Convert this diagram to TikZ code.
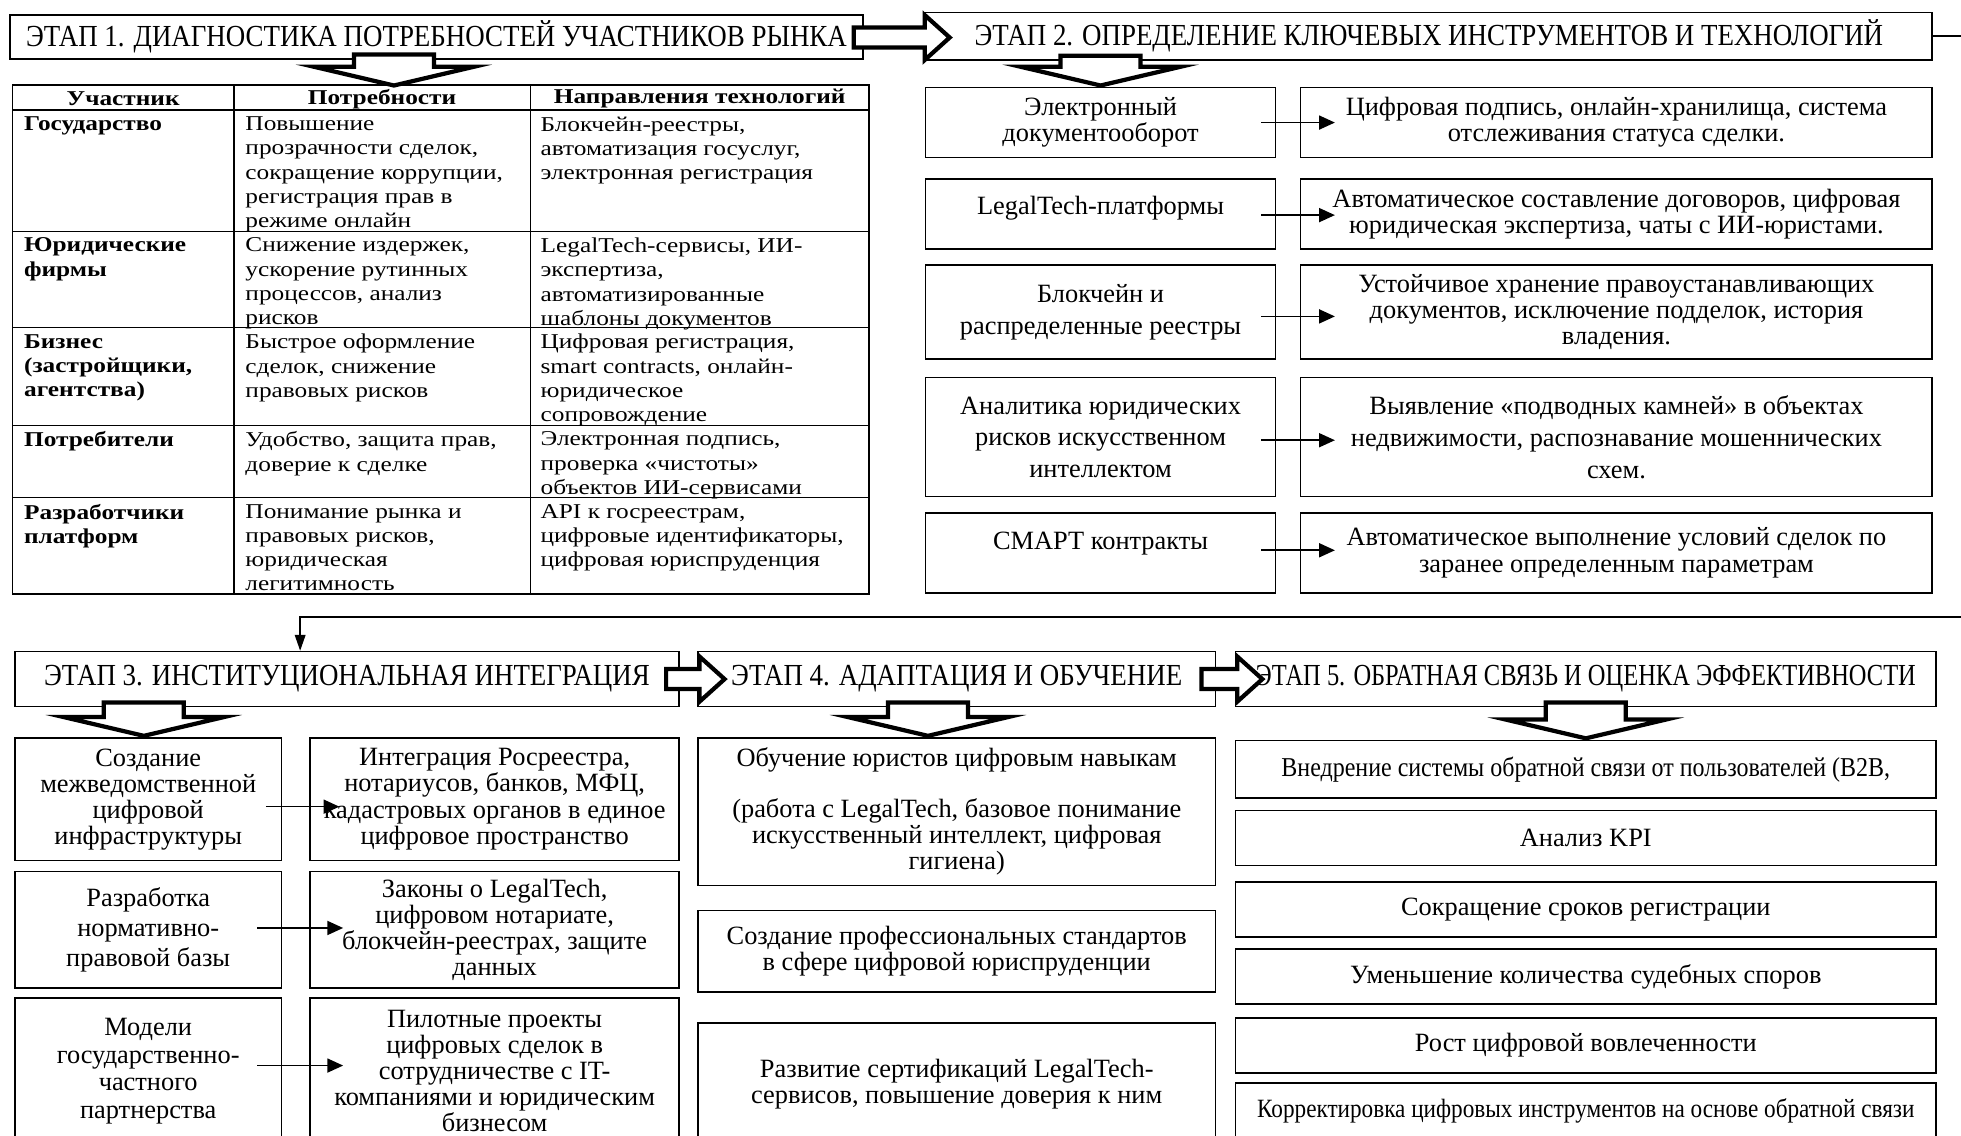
\documentclass[tikz,border=0pt]{standalone}
\usepackage{fontspec}
\setmainfont{Liberation Serif}
\newfontfamily\tnrc[FakeStretch=0.88]{Liberation Serif}
\newfontfamily\tnrcc[FakeStretch=0.8]{Liberation Serif}
\newfontfamily\tnrw[FakeStretch=1.2]{Liberation Serif}
\usetikzlibrary{arrows.meta, positioning, calc}

\newcommand{\unitpx}{0.025cm}

% hollow block arrow pointing right: #1 tail, #2 tip
\newcommand{\rightblock}[2]{%
  \draw[hollow] ($(#1)+(0,-8)$) -- ($(#2 |- #1)+(-20,-8)$) -- ($(#2 |- #1)+(-20,-18)$)
    -- (#2 |- #1) -- ($(#2 |- #1)+(-20,18)$) -- ($(#2 |- #1)+(-20,8)$) -- ($(#1)+(0,8)$) -- cycle;}
% hollow block arrow pointing down: #1 top centre, #2 tip
\newcommand{\downblock}[2]{%
  \draw[hollow] ($(#1)+(-32,0)$) -- ($(#1)+(32,0)$) -- ($(#2)+(32,-15)$) -- ($(#2)+(64,-15)$)
    -- (#2) -- ($(#2)+(-64,-15)$) -- ($(#2)+(-32,-15)$) -- cycle;}

\begin{document}
\begin{tikzpicture}[
    x=0.025cm, y=-0.025cm,
    % Define Styles
    wh/.style 2 args={
        minimum width=#1*\unitpx,
        minimum height=#2*\unitpx
    },
    stage/.style={
        draw,
        line width=0.9pt,
        fill=white,
        inner sep=0pt,
        font=\tnrc\fontsize{17.4}{19}\selectfont
    },
    item/.style={
        draw,
        line width=0.9pt,
        align=center,
        inner sep=0pt,
        font=\fontsize{15}{14.8}\selectfont
    },
    cell/.style={
        anchor=north west,
        align=left,
        inner sep=0pt,
        font=\tnrw\fontsize{12}{13.8}\selectfont
    },
    boldcell/.style={
        cell,
        font=\tnrw\bfseries\fontsize{12}{13.8}\selectfont
    },
    headcell/.style={
        boldcell,
        anchor=center
    },
    gridline/.style={
        draw,
        line width=0.8pt
    },
    hollow/.style={
        draw,
        line width=2.4pt,
        fill=white,
        line join=miter
    },
    link/.style={
        draw,
        line width=0.9pt,
        -{Triangle[length=9pt, width=8pt]}
    },
    feedback/.style={
        draw,
        line width=0.9pt,
        -{Triangle[length=9pt, width=6pt]}
    }
    ]

    % Frame
    \useasboundingbox (0,0) rectangle (1568,908);
    \clip (0,0) rectangle (1568,908);

    % Stages
    \node[stage, wh={682}{35}] (st1) at (349,29.5) {ЭТАП 1. ДИАГНОСТИКА ПОТРЕБНОСТЕЙ УЧАСТНИКОВ РЫНКА};
    \node[stage, wh={805}{38}] (st2) at (1142.5,29) {ЭТАП 2. ОПРЕДЕЛЕНИЕ КЛЮЧЕВЫХ ИНСТРУМЕНТОВ И ТЕХНОЛОГИЙ};
    \node[stage, wh={531}{44}] (st3) at (277.5,543) {ЭТАП 3. ИНСТИТУЦИОНАЛЬНАЯ ИНТЕГРАЦИЯ};
    \node[stage, wh={414}{44}] (st4) at (765,543) {ЭТАП 4. АДАПТАЦИЯ И ОБУЧЕНИЕ};
    \node[stage, font=\tnrcc\fontsize{17.4}{19}\selectfont, wh={560}{44}] (st5) at (1268,543) {ЭТАП 5. ОБРАТНАЯ СВЯЗЬ И ОЦЕНКА ЭФФЕКТИВНОСТИ};

    % Table of participants
    \node[draw, line width=0.9pt, wh={685}{407}] (tbl) at (352.5,271.5) {};
    \draw[gridline] (187,68) -- (187,475);
    \draw[gridline] (424,68) -- (424,475);
    \draw[gridline] (10,88) -- (695,88);
    \draw[gridline] (10,185) -- (695,185);
    \draw[gridline] (10,262) -- (695,262);
    \draw[gridline] (10,340) -- (695,340);
    \draw[gridline] (10,398) -- (695,398);

    \node[headcell] (hpart) at (98.5,79) {Участник};
    \node[headcell] (hneed) at (305.5,79) {Потребности};
    \node[headcell] (htech) at (559.5,79) {Направления технологий};

    \node[boldcell] (govp) at (19,93) {Государство};
    \node[cell] (govn) at (196,93) {Повышение\\прозрачности сделок,\\сокращение коррупции,\\регистрация прав в\\режиме онлайн};
    \node[cell] (govt) at (432,93) {Блокчейн-реестры,\\автоматизация госуслуг,\\электронная регистрация};

    \node[boldcell] (lawp) at (19,190) {Юридические\\фирмы};
    \node[cell] (lawn) at (196,190) {Снижение издержек,\\ускорение рутинных\\процессов, анализ\\рисков};
    \node[cell] (lawt) at (432,190) {LegalTech-сервисы, ИИ-\\экспертиза,\\автоматизированные\\шаблоны документов};

    \node[boldcell] (bizp) at (19,267) {Бизнес\\(застройщики,\\агентства)};
    \node[cell] (bizn) at (196,267) {Быстрое оформление\\сделок, снижение\\правовых рисков};
    \node[cell] (bizt) at (432,267) {Цифровая регистрация,\\smart contracts, онлайн-\\юридическое\\сопровождение};

    \node[boldcell] (consp) at (19,345) {Потребители};
    \node[cell] (consn) at (196,345) {Удобство, защита прав,\\доверие к сделке};
    \node[cell] (const) at (432,345) {Электронная подпись,\\проверка «чистоты»\\объектов ИИ-сервисами};

    \node[boldcell] (devp) at (19,403) {Разработчики\\платформ};
    \node[cell] (devn) at (196,403) {Понимание рынка и\\правовых рисков,\\юридическая\\легитимность};
    \node[cell] (devt) at (432,403) {API к госреестрам,\\цифровые идентификаторы,\\цифровая юриспруденция};

    % Stage 2 tools
    \node[item, wh={280}{56}] (tool1) at (880,98) {Электронный\\документооборот};
    \node[item, wh={505}{56}] (effect1) at (1292.5,98) {Цифровая подпись, онлайн-хранилища, система\\отслеживания статуса сделки.};
    \node[item, wh={280}{56}] (tool2) at (880,171) {\raisebox{3pt}[\height][\depth]{LegalTech-платформы}};
    \node[item, wh={505}{56}] (effect2) at (1292.5,171) {Автоматическое составление договоров, цифровая\\юридическая экспертиза, чаты с ИИ-юристами.};
    \node[item, font=\fontsize{15}{18}\selectfont, wh={280}{75}] (tool3) at (880,249.5) {Блокчейн и\\распределенные реестры};
    \node[item, wh={505}{75}] (effect3) at (1292.5,249.5) {Устойчивое хранение правоустанавливающих\\документов, исключение подделок, история\\владения.};
    \node[item, font=\fontsize{15}{18}\selectfont, wh={280}{95}] (tool4) at (880,349.5) {Аналитика юридических\\рисков искусственном\\интеллектом};
    \node[item, font=\fontsize{15}{18}\selectfont, wh={505}{95}] (effect4) at (1292.5,349.5) {Выявление «подводных камней» в объектах\\недвижимости, распознавание мошеннических\\схем.};
    \node[item, wh={280}{64}] (tool5) at (880,442) {\raisebox{5pt}[\height][\depth]{СМАРТ контракты}};
    \node[item, wh={505}{64}] (effect5) at (1292.5,442) {Автоматическое выполнение условий сделок по\\заранее определенным параметрам};

    \draw[link] ($(tool1.east)+(-12,0)$) -- ($(effect1.west)+(28,0)$);
    \draw[link] ($(tool2.east)+(-12,1)$) -- ($(effect2.west)+(28,1)$);
    \draw[link] ($(tool3.east)+(-12,3.5)$) -- ($(effect3.west)+(28,3.5)$);
    \draw[link] ($(tool4.east)+(-12,2.5)$) -- ($(effect4.west)+(28,2.5)$);
    \draw[link] ($(tool5.east)+(-12,-2)$) -- ($(effect5.west)+(28,-2)$);

    % Stage 3 integration
    \node[item, wh={213}{98}] (int1) at (118.5,639) {Создание\\межведомственной\\цифровой\\инфраструктуры};
    \node[item, wh={295}{98}] (intres1) at (395.5,639) {Интеграция Росреестра,\\нотариусов, банков, МФЦ,\\кадастровых органов в единое\\цифровое пространство};
    \node[item, font=\fontsize{15}{17}\selectfont, wh={213}{93}] (int2) at (118.5,743.5) {Разработка\\нормативно-\\правовой базы};
    \node[item, wh={295}{93}] (intres2) at (395.5,743.5) {Законы о LegalTech,\\цифровом нотариате,\\блокчейн-реестрах, защите\\данных};
    \node[item, font=\fontsize{15}{15.6}\selectfont, wh={213}{117}] (int3) at (118.5,856.5) {Модели\\государственно-\\частного\\партнерства};
    \node[item, wh={295}{117}] (intres3) at (395.5,856.5) {Пилотные проекты\\цифровых сделок в\\сотрудничестве с IT-\\компаниями и юридическим\\бизнесом};

    \draw[link] ($(int1.east)+(-13,6)$) -- ($(intres1.west)+(24,6)$);
    \draw[link] ($(int2.east)+(-20,-1.5)$) -- ($(intres2.west)+(27,-1.5)$);
    \draw[link] ($(int3.east)+(-20,-4.5)$) -- ($(intres3.west)+(27,-4.5)$);

    % Stage 4 training
    \node[item, wh={414}{118}] (edu1) at (765,649) {Обучение юристов цифровым навыкам\\[14pt](работа с LegalTech, базовое понимание\\искусственный интеллект, цифровая\\гигиена)};
    \node[item, wh={414}{65}] (edu2) at (765,760.5) {Создание профессиональных стандартов\\в сфере цифровой юриспруденции};
    \node[item, wh={414}{97}] (edu3) at (765,866.5) {Развитие сертификаций LegalTech-\\сервисов, повышение доверия к ним};

    % Stage 5 evaluation
    \node[item, font=\tnrc\fontsize{15.5}{15}\selectfont, wh={560}{46}] (kpi1) at (1268,615) {Внедрение системы обратной связи от пользователей (B2B,};
    \node[item, wh={560}{44}] (kpi2) at (1268,670) {Анализ KPI};
    \node[item, wh={560}{44}] (kpi3) at (1268,727) {Сокращение сроков регистрации};
    \node[item, wh={560}{44}] (kpi4) at (1268,781) {Уменьшение количества судебных споров};
    \node[item, wh={560}{44}] (kpi5) at (1268,836) {Рост цифровой вовлеченности};
    \node[item, font=\tnrc\fontsize{15}{15}\selectfont, wh={560}{44}] (kpi6) at (1268,888) {Корректировка цифровых инструментов на основе обратной связи};

    % Feedback line from stage 2 to stage 3
    \coordinate (fbturn) at ($(st3.north)+(-37.5,-27)$);
    \coordinate (fbin) at ($(st3.north)+(-37.5,0)$);
    \draw[feedback] (st2.east) -- ++(60,0) |- (fbturn) -- (fbin);

    % Block arrows between stages
    \coordinate (a12) at ($(st1.east)+(-8,0.5)$);
    \coordinate (b12) at ($(st2.west)+(20,0)$);
    \rightblock{a12}{b12}
    \coordinate (a34) at ($(st3.east)+(-11,0)$);
    \coordinate (b34) at ($(st4.west)+(22,0)$);
    \rightblock{a34}{b34}
    \coordinate (a45) at ($(st4.east)+(-12,0)$);
    \coordinate (b45) at ($(st5.west)+(22,0)$);
    \rightblock{a45}{b45}

    \coordinate (d1top) at ($(st1.south)+(-34,-4)$);
    \coordinate (d1tip) at ($(tbl.north)+(-37.5,1)$);
    \downblock{d1top}{d1tip}
    \coordinate (d2top) at ($(st2.south)+(-262.5,-4)$);
    \coordinate (d2tip) at ($(tool1.north)+(0,-1)$);
    \downblock{d2top}{d2tip}
    \coordinate (d3top) at ($(st3.south)+(-162.5,-4)$);
    \coordinate (d3tip) at ($(int1.north)+(-3.5,-1)$);
    \downblock{d3top}{d3tip}
    \coordinate (d4top) at ($(st4.south)+(-23,-4)$);
    \coordinate (d4tip) at ($(edu1.north)+(-23,-1)$);
    \downblock{d4top}{d4tip}
    \coordinate (d5top) at ($(st5.south)+(0,-4)$);
    \coordinate (d5tip) at ($(kpi1.north)+(0,-1)$);
    \downblock{d5top}{d5tip}

\end{tikzpicture}
\end{document}
